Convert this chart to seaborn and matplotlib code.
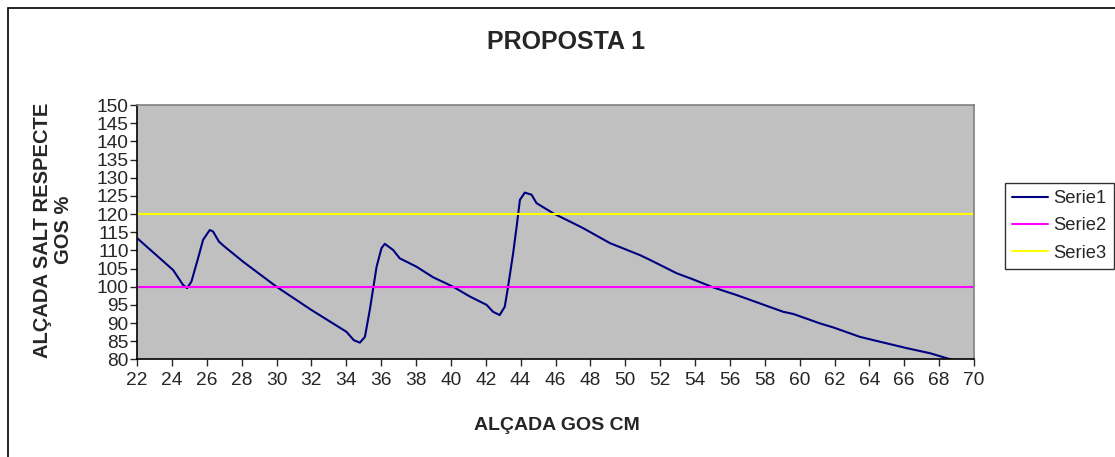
import numpy as np
import pandas as pd
import seaborn as sns
import matplotlib.pyplot as plt
from matplotlib.patches import Rectangle

sns.set_style("white")
plt.rcParams['font.family'] = ['Liberation Sans', 'DejaVu Sans']

# Serie1
serie1_x = [22.0, 24.07, 24.64, 24.87, 25.12, 25.5, 25.79, 26.17, 26.36, 26.7, 27.03,
            28.08, 30.0, 32.0, 34.01, 34.43, 34.78, 35.07, 35.35, 35.74, 36.02, 36.21,
            36.69, 37.07, 38.03, 38.98, 40.13, 41.09, 42.05, 42.42, 42.8, 43.09, 43.28,
            43.57, 43.77, 43.96, 44.24, 44.63, 44.91, 45.87, 47.01, 47.59, 49.12, 50.84,
            51.41, 52.95, 53.9, 55.05, 56.39, 59.06, 59.64, 61.17, 61.93, 63.46, 64.23,
            66.14, 67.48, 68.8, 69.0]
serie1_y = [113.4, 104.6, 100.5, 99.6, 101.4, 107.8, 112.9, 115.6, 115.2, 112.4, 111.0,
            106.9, 100.0, 93.6, 87.6, 85.3, 84.6, 86.2, 93.6, 105.5, 110.6, 111.8,
            110.1, 107.8, 105.5, 102.6, 100.0, 97.3, 95.0, 93.1, 92.2, 94.5, 100.0,
            109.2, 116.5, 123.9, 125.9, 125.3, 123.0, 120.2, 117.5, 116.1, 112.0, 108.7,
            107.4, 103.7, 102.0, 99.8, 97.7, 93.1, 92.5, 89.9, 88.8, 86.2, 85.3,
            83.1, 81.7, 79.8, 79.5]
serie2_x = [22, 70]
serie2_y = [100, 100]
serie3_x = [22, 70]
serie3_y = [120, 120]

x_ticks = list(range(22, 71, 2))
y_ticks = list(range(80, 151, 5))

series = [("Serie1", serie1_x, serie1_y, "#000080"),
          ("Serie2", serie2_x, serie2_y, "#FF00FF"),
          ("Serie3", serie3_x, serie3_y, "#FFFF00")]

fig = plt.figure(figsize=(11.15, 4.57), dpi=100)
fig.patches.append(Rectangle((8 / 1115, -0.1), 1.2, 1 - 8 / 457 + 0.1,
                             transform=fig.transFigure, fill=False,
                             edgecolor='black', linewidth=1.2))
ax = fig.add_axes([137 / 1115, 1 - 359.4 / 457, (974 - 137) / 1115, (359.4 - 105) / 457])
ax.set_facecolor('#C0C0C0')

for name, xs, ys, col in series:
    df = pd.DataFrame({'x': xs, 'y': ys})
    sns.lineplot(data=df, x='x', y='y', ax=ax, color=col, linewidth=1.5,
                 sort=False, estimator=None, label=name)

ax.set_xlim(22, 70)
ax.set_ylim(80, 150)
ax.set_xticks(x_ticks)
ax.set_yticks(y_ticks)
ax.tick_params(axis='both', direction='out', length=5, width=1, labelsize=13.8,
               bottom=True, left=True, pad=4)
ax.tick_params(axis='y', pad=1)
for s in ['left', 'bottom']:
    ax.spines[s].set_color('black')
    ax.spines[s].set_linewidth(1.2)
for s in ['top', 'right']:
    ax.spines[s].set_color('#808080')
    ax.spines[s].set_linewidth(1.2)

ax.set_xlabel('ALÇADA GOS CM', fontsize=14, fontweight='bold')
ax.set_ylabel('ALÇADA SALT RESPECTE\nGOS %', fontsize=14.5, fontweight='bold',
              linespacing=1.1)
ax.xaxis.set_label_coords(0.502, -0.258)
ax.yaxis.set_label_coords(-0.1004, 0.509)
for lab in (ax.xaxis.label, ax.yaxis.label):
    lab.set_verticalalignment('center')
fig.text(566 / 1115, 1 - 42 / 457, 'PROPOSTA 1', fontsize=18, fontweight='bold',
         ha='center', va='center')

leg = ax.legend(loc='upper left', bbox_to_anchor=(1005 / 1115, 1 - 183 / 457),
                bbox_transform=fig.transFigure, fontsize=13.2, frameon=True,
                fancybox=False, edgecolor='black', handlelength=1.95,
                borderpad=0.4, labelspacing=0.55, handletextpad=0.3, borderaxespad=0)
leg.get_frame().set_linewidth(1.0)

fig.savefig('out.png', dpi=100)
